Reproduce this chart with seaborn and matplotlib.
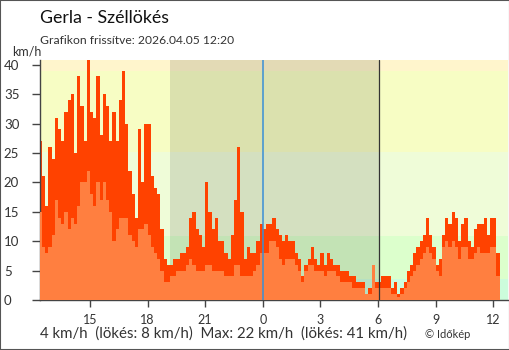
import numpy as np
import pandas as pd
import matplotlib
matplotlib.use("Agg")
import matplotlib.pyplot as plt
from matplotlib.patches import Rectangle
import seaborn as sns

# ---- data -------------------------------------------------------------
station = "Gerla"
updated = "2026.04.05 12:20"
first_reading = (12, 20)     # clock time of the first 10-minute reading (previous day)
step_minutes = 10

# 10-minute gust maxima, km/h (12:20 .. 12:10 next day)
gust_kmh = [
    27, 21, 16, 26,
    24, 31, 29, 27, 32, 34,
    35, 25, 38, 33, 27, 41,
    32, 31, 38, 28, 35, 33,
    27, 32, 27, 34, 39, 30,
    22, 18, 14, 29, 20, 30,
    30, 21, 19, 18, 12, 7,
    6, 6, 7, 7, 8, 8,
    9, 14, 15, 12, 11, 9,
    20, 15, 12, 14, 10, 10,
    8, 7, 11, 17, 26, 15,
    7, 9, 8, 8, 10, 13,
    12, 13, 13, 14, 12, 11,
    10, 11, 10, 10, 8, 7,
    4, 6, 7, 9, 7, 6,
    8, 6, 8, 7, 6, 6,
    5, 5, 5, 4, 4, 3,
    3, 3, 1, 2, 6, 3,
    3, 4, 4, 4, 2, 3,
    1, 2, 3, 5, 6, 8,
    9, 10, 11, 14, 11, 9,
    6, 7, 11, 14, 13, 15,
    14, 10, 13, 14, 10, 9,
    12, 13, 13, 14, 11, 14,
    14, 8,
]

# 10-minute mean wind speed, km/h
mean_kmh = [
    15, 9, 8, 9,
    11, 17, 14, 13, 15, 12,
    14, 13, 16, 20, 20, 22,
    18, 16, 20, 17, 20, 17,
    15, 10, 12, 14, 14, 14,
    11, 10, 9, 12, 12, 13,
    11, 9, 8, 7, 5, 3,
    3, 4, 4, 5, 5, 5,
    6, 7, 6, 5, 5, 5,
    6, 6, 5, 5, 5, 5,
    4, 4, 4, 6, 6, 4,
    4, 4, 4, 5, 6, 8,
    8, 8, 10, 10, 9, 7,
    6, 7, 7, 7, 6, 5,
    3, 5, 6, 6, 5, 5,
    5, 4, 5, 5, 5, 4,
    3, 3, 3, 3, 2, 2,
    2, 2, 1, 1, 6, 2,
    2, 2, 2, 2, 1, 1,
    0.5, 1, 2, 3, 4, 5,
    6, 7, 8, 9, 8, 7,
    5, 4, 9, 10, 9, 10,
    9, 7, 9, 9, 7, 7,
    8, 9, 8, 8, 8, 9,
    9, 4,
]

current_mean, current_gust = mean_kmh[-1], gust_kmh[-1]
max_mean, max_gust = max(mean_kmh), max(gust_kmh)

# hours relative to midnight
hour_ticks = [-9, -6, -3, 0, 3, 6, 9, 12]
hour_labels = ["15", "18", "21", "0", "3", "6", "9", "12"]
y_ticks = [0, 5, 10, 15, 20, 25, 30, 35, 40]
sunset_h = -4.83
sunrise_h = 6.07

# Beaufort-like background zones (km/h)
zone_edges = [0, 3.6, 10.8, 25.2, 38.9, 45]
zone_colors = ["#ccfcdc", "#dcffcc", "#effcd8", "#f7fdc4", "#fff5cc"]

# ---- frame ------------------------------------------------------------
start_h = first_reading[0] + first_reading[1] / 60 - 24
step_h = step_minutes / 60
t_start = start_h + np.arange(len(gust_kmh)) * step_h
df = pd.DataFrame({"t": t_start + step_h / 2, "gust": gust_kmh, "mean": mean_kmh})
bin_range = (t_start[0], t_start[-1] + step_h)

# ---- figure -----------------------------------------------------------
sns.set_theme(style="white")
plt.rcParams["font.family"] = ["Lato", "DejaVu Sans"]

W, H = 510, 350
fig = plt.figure(figsize=(W / 100, H / 100), dpi=100)
ax = fig.add_axes([40 / W, 50 / H, 468 / W, 240 / H])

for lo, hi, c in zip(zone_edges[:-1], zone_edges[1:], zone_colors):
    ax.axhspan(lo, hi, color=c, lw=0, zorder=0)
ax.axvspan(sunset_h, sunrise_h, color="black", alpha=0.11, lw=0, zorder=0.5)

sns.histplot(data=df, x="t", weights="gust", binwidth=step_h, binrange=bin_range,
             element="step", fill=True, color="#ff4200", alpha=1, linewidth=0,
             ax=ax, zorder=2)
sns.histplot(data=df, x="t", weights="mean", binwidth=step_h, binrange=bin_range,
             element="step", fill=True, color="#ff7f40", alpha=1, linewidth=0,
             ax=ax, zorder=3)

ax.axvline(0, color="#3a8fd6", lw=1.1, zorder=5)
ax.axvline(sunrise_h, color="#333333", lw=0.9, zorder=5)

ax.set_xlim(-11.6, 12.77)
ax.set_ylim(0, 40.8)
ax.set_xlabel("")
ax.set_ylabel("")

ax.set_xticks(hour_ticks)
ax.set_xticklabels(hour_labels)
ax.set_yticks(y_ticks)
ax.set_yticklabels([str(v) for v in y_ticks])

ax.tick_params(axis="x", direction="out", length=5, width=1, color="#444444",
               labelsize=9, labelcolor="#333333", pad=5, bottom=True)
ax.tick_params(axis="y", direction="out", length=6, width=1, color="#444444",
               labelsize=9.5, labelcolor="#333333", pad=20, left=True)
for lab in ax.get_yticklabels():
    lab.set_horizontalalignment("left")
ax.xaxis.get_major_ticks()[3].tick1line.set_color("#3a8fd6")

for side in ("top", "right"):
    ax.spines[side].set_visible(False)
for side in ("left", "bottom"):
    ax.spines[side].set_color("#444444")
    ax.spines[side].set_linewidth(1)

# ---- texts ------------------------------------------------------------
fig.text(40 / W, 1 - 18 / H, f"{station} - Széllökés", fontsize=12.8,
         color="#111111", va="center", ha="left")
fig.text(40 / W, 1 - 40 / H, f"Grafikon frissítve: {updated}", fontsize=8.7,
         color="#333333", va="center", ha="left")
fig.text(12 / W, 1 - 51 / H, "km/h", fontsize=9, color="#333333",
         va="center", ha="left")
fig.text(40 / W, 1 - 334 / H,
         f"{current_mean} km/h  (lökés: {current_gust} km/h)  "
         f"Max: {max_mean} km/h  (lökés: {max_gust} km/h)",
         fontsize=10.8, color="#333333", va="center", ha="left")
fig.text(425 / W, 1 - 334 / H, "© Időkép", fontsize=8, color="#333333",
         va="center", ha="left")

fig.patches.append(Rectangle((0, 0), 1, 1, transform=fig.transFigure,
                             fill=False, edgecolor="#555555", lw=1.5))

fig.savefig("out.png", dpi=100)
